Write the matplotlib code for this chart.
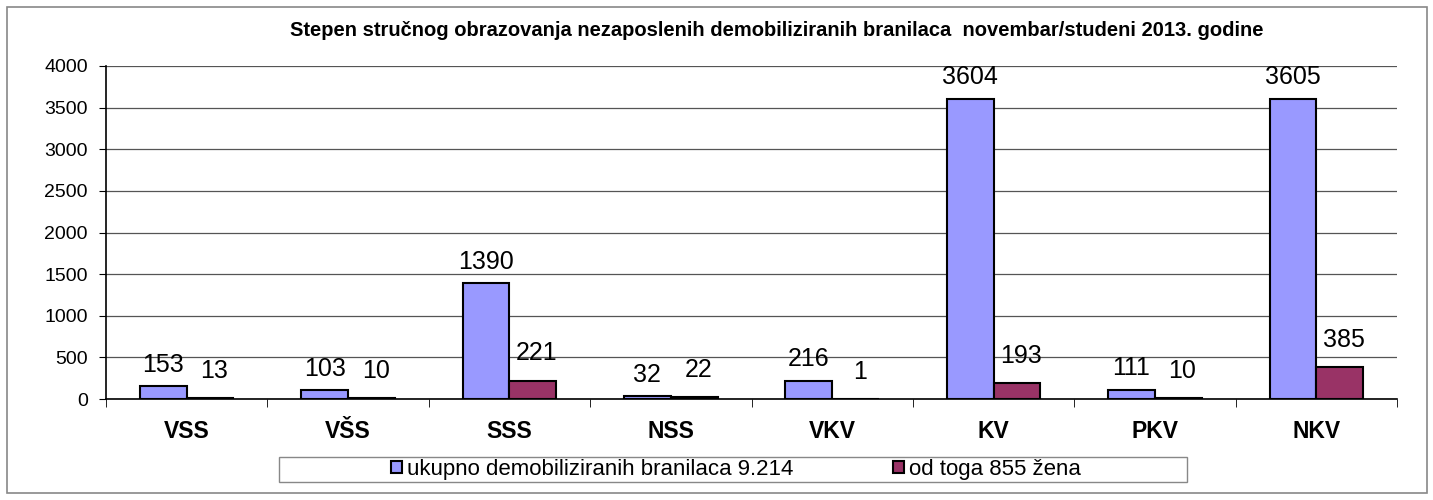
import matplotlib
matplotlib.use("Agg")
import matplotlib.pyplot as plt
import numpy as np
from matplotlib.patches import Rectangle

categories = ["VSS", "VŠS", "SSS", "NSS", "VKV", "KV", "PKV", "NKV"]
ukupno = [153, 103, 1390, 32, 216, 3604, 111, 3605]
zene = [13, 10, 221, 22, 1, 193, 10, 385]
series_names = ["ukupno demobiliziranih branilaca 9.214", "od toga 855 žena"]
title = "Stepen stručnog obrazovanja nezaposlenih demobiliziranih branilaca  novembar/studeni 2013. godine"

plt.rcParams['font.family'] = ['Liberation Sans', 'DejaVu Sans']

fig = plt.figure(figsize=(14.33, 5), dpi=100)
ax = fig.add_axes([106 / 1433, 1 - 399 / 500, (1397 - 106) / 1433, (399 - 66) / 500])

x = np.arange(len(categories))
w = 0.29
b1 = ax.bar(x - w / 2, ukupno, w, color="#9999FF", edgecolor="black", linewidth=1.5,
            label=series_names[0], zorder=3)
b2 = ax.bar(x + w / 2, zene, w, color="#993366", edgecolor="black", linewidth=1.5,
            label=series_names[1], zorder=3)

# value labels
for rect, v in zip(b1, ukupno):
    ax.annotate(str(v), (rect.get_x() + rect.get_width() / 2, v), xytext=(0, 7),
                textcoords="offset points", ha="center", va="bottom", fontsize=18)
for rect, v in zip(b2, zene):
    ax.annotate(str(v), (rect.get_x() + rect.get_width() / 2, v), xytext=(3, 11),
                textcoords="offset points", ha="center", va="bottom", fontsize=18)

ax.set_xlim(-0.5, len(categories) - 0.5)
ax.set_ylim(0, 4000)
ax.set_yticks(range(0, 4001, 500))
ax.yaxis.grid(True, color="#555555", linewidth=0.9, zorder=0)
ax.set_axisbelow(True)
for s in ["top", "right"]:
    ax.spines[s].set_visible(False)
ax.spines["left"].set_linewidth(1.2)
ax.spines["bottom"].set_linewidth(1.2)

ax.set_xticks(x)
ax.set_xticklabels(categories, fontsize=16.5, fontweight="bold")
ax.tick_params(axis="x", length=0, pad=15)
ax.set_xticks(np.arange(-0.5, len(categories), 1), minor=True)
ax.tick_params(axis="x", which="minor", length=6, direction="out")
ax.tick_params(axis="y", labelsize=14, length=5, direction="out", pad=8)

fig.text(777 / 1433, 1 - 30 / 500, title, ha="center", va="center", fontsize=14.5, fontweight="bold")

# legend box drawn separately, legend itself frameless
fig.patches.append(Rectangle((279 / 1433, 1 - 482 / 500), (1187 - 279) / 1433, 25 / 500,
                             transform=fig.transFigure, fill=False, edgecolor="#888888", linewidth=1))
leg = fig.legend(loc="center", bbox_to_anchor=(736 / 1433, 1 - 469.5 / 500), ncol=2, fontsize=16,
                 frameon=False, handlelength=0.5, handleheight=0.5,
                 handletextpad=0.2, columnspacing=4.5, borderpad=0, borderaxespad=0)

fig.patches.append(Rectangle((7 / 1433, 7 / 500), 1420 / 1433, 486 / 500, transform=fig.transFigure,
                             fill=False, edgecolor="#888888", linewidth=1.2))

fig.savefig("out.png", dpi=100)
